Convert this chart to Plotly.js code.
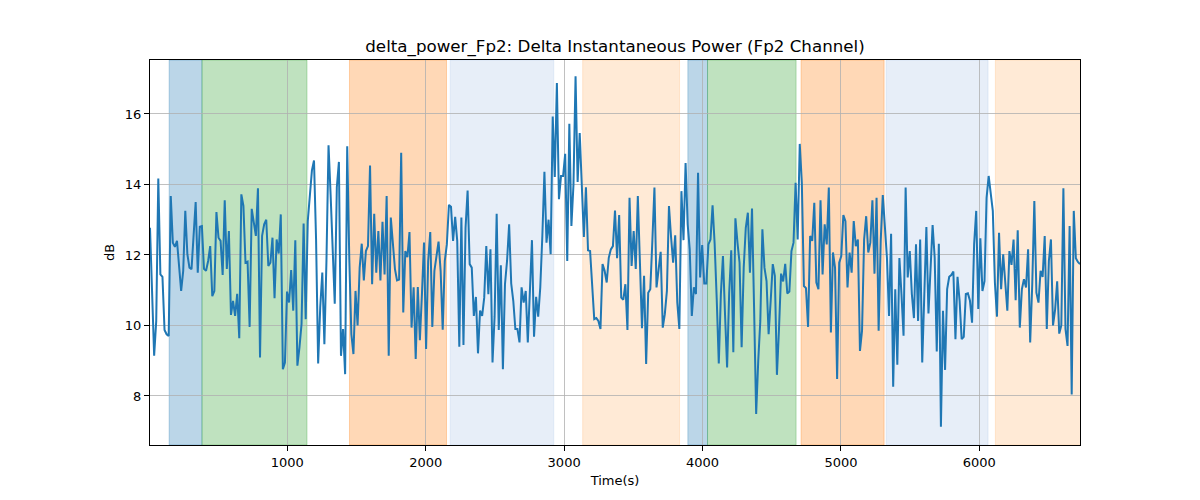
<!DOCTYPE html>
<html>
<head>
<meta charset="utf-8">
<script src="https://cdn.plot.ly/plotly-3.0.1.min.js"></script>
<style>html,body{margin:0;padding:0;background:#fff;}#chart{width:1200px;height:500px;}</style>
</head>
<body>
<div id="chart"></div>
<script>
// Sampling grid of the recording (seconds)
const T_START = 7.5;
const T_STEP = 15;

// Delta power (dB), left to right in eight pieces
const power1 = [12.77, 11.2, 9.14, 10.13, 14.17, 11.45, 11.38, 9.87, 9.75, 9.7,
  13.67, 12.35, 12.23, 12.4, 11.64, 10.98, 11.55, 13.25, 12.02, 11.64,
  11.6, 12.54, 13.5, 11.5, 12.8, 12.82, 11.61, 11.55, 11.83, 12.25,
  10.83, 10.98, 13.22, 12.49, 12.4, 11.43, 13.55, 11.6, 12.68, 10.3,
  10.7, 10.27, 10.9, 9.64, 13.72, 13.39, 11.78, 11.81, 9.96, 13.31,
  12.89, 12.54, 13.89, 9.09, 12.54, 12.87, 13.0, 11.69];
const power2 = [11.78, 12.49, 10.77, 12.44, 12.04, 13.15, 8.76, 8.95, 10.96, 10.65,
  11.57, 10.42, 12.42, 8.86, 9.38, 10.04, 12.89, 10.18, 12.96, 13.72,
  14.4, 14.68, 12.44, 8.92, 10.51, 11.5, 9.47, 11.83, 15.11, 13.72,
  12.4, 10.62, 13.92, 14.64, 9.14, 9.9, 8.62, 15.08, 11.88, 9.75,
  9.19, 10.98, 10.0, 11.64, 12.32, 11.28, 12.11, 12.25, 14.54, 11.17,
  13.17, 11.5, 12.68, 11.28, 12.94, 11.45, 13.67, 9.14];
const power3 = [13.06, 12.21, 11.6, 11.28, 11.3, 14.9, 10.37, 12.11, 11.94, 12.65,
  9.94, 11.08, 9.05, 11.09, 9.58, 10.89, 12.35, 9.33, 11.83, 12.65,
  9.96, 11.55, 12.04, 12.38, 11.55, 9.88, 11.83, 12.3, 13.42, 13.37,
  12.4, 13.08, 12.4, 9.4, 13.06, 9.45, 12.77, 13.83, 11.74, 11.64,
  10.27, 10.81, 9.21, 10.42, 10.27, 10.79, 12.25, 10.89, 12.16, 8.95,
  10.25, 13.17, 9.87, 11.71, 8.76, 11.17, 11.83, 12.87];
const power4 = [11.19, 10.7, 9.9, 9.9, 9.52, 11.08, 10.65, 10.98, 9.52, 11.08,
  12.42, 9.68, 10.81, 10.25, 11.08, 12.54, 14.36, 12.35, 13.0, 12.02,
  15.93, 14.21, 16.88, 13.58, 14.24, 14.24, 14.87, 11.83, 15.72, 12.82,
  14.0, 17.07, 14.07, 15.46, 14.09, 12.51, 13.92, 12.13, 12.11, 11.25,
  10.18, 10.21, 10.13, 9.9, 11.74, 11.55, 11.22, 11.92, 12.16, 12.25,
  13.26, 11.91, 13.13, 10.79, 10.73, 11.17, 9.87, 13.62];
const power5 = [11.69, 12.68, 11.6, 13.67, 11.92, 9.92, 11.41, 8.91, 10.93, 11.03,
  12.4, 13.91, 11.08, 11.55, 12.09, 9.94, 10.32, 10.98, 13.39, 12.51,
  11.78, 12.56, 10.65, 9.9, 13.81, 12.42, 14.61, 12.87, 12.16, 10.27,
  11.08, 10.89, 14.33, 11.36, 12.28, 11.19, 11.19, 12.3, 12.44, 13.41,
  12.32, 10.75, 8.92, 10.89, 11.97, 10.32, 8.81, 10.91, 12.13, 9.24,
  13.04, 12.35, 11.78, 9.38, 11.64, 12.77, 13.2];
const power6 = [11.5, 13.32, 10.51, 7.49, 9.0, 10.13, 12.73, 11.64, 11.26, 9.75,
  10.7, 11.74, 11.41, 8.6, 9.9, 11.47, 11.25, 11.75, 10.91, 10.96,
  12.11, 12.35, 14.05, 12.44, 15.15, 14.05, 11.12, 11.06, 9.96, 12.54,
  12.4, 13.48, 11.22, 11.03, 13.55, 11.45, 12.87, 12.3, 13.91, 9.8,
  12.07, 11.64, 8.48, 11.78, 11.97, 13.13, 12.96, 11.08, 12.07, 11.5,
  12.96, 12.25, 12.44, 9.28, 9.85, 12.44, 13.1, 12.07];
const power7 = [12.35, 13.55, 11.47, 13.62, 9.85, 12.4, 13.7, 12.77, 11.92, 10.27,
  12.6, 8.26, 11.03, 8.89, 11.91, 10.89, 9.71, 13.91, 11.36, 12.11,
  10.89, 10.21, 12.3, 10.13, 12.44, 8.95, 11.03, 12.79, 10.34, 11.78,
  12.85, 11.92, 9.26, 12.32, 7.13, 10.42, 8.74, 11.03, 11.38, 11.43,
  11.53, 9.61, 11.38, 10.7, 9.61, 9.68, 10.89, 10.91, 10.7, 10.08,
  12.3, 13.25, 10.47, 12.47, 10.98, 11.26, 13.62, 14.24];
const power8 = [13.74, 13.25, 11.22, 10.25, 12.63, 11.03, 12.02, 11.26, 10.42, 12.11,
  11.72, 12.44, 10.72, 12.7, 9.94, 11.03, 11.31, 11.08, 12.16, 9.52,
  11.17, 13.53, 10.93, 10.65, 11.55, 11.38, 12.54, 9.9, 11.83, 12.44,
  10.0, 10.44, 11.25, 9.77, 10.0, 13.89, 9.9, 9.42, 12.82, 8.04,
  13.25, 11.91, 11.8, 11.74];

// Shaded stage intervals (seconds) and their colours
const spanStart = [146, 383, 1449, 2177, 3134, 3894, 4036, 4712, 5327, 6116];
const spanEnd   = [383, 1142, 2150, 2925, 3834, 4036, 4676, 5312, 6063, 6740];
const spanColor = ['#1f77b4', '#2ca02c', '#ff7f0e', '#aec7e8', '#ffbb78',
                   '#1f77b4', '#2ca02c', '#ff7f0e', '#aec7e8', '#ffbb78'];

const xTicks = [1000, 2000, 3000, 4000, 5000, 6000];
const yTicks = [8, 10, 12, 14, 16];

const power = [].concat(power1, power2, power3, power4, power5, power6, power7, power8);
const times = power.map((_, i) => T_START + i * T_STEP);

function rgba(hex, a) {
  const r = parseInt(hex.slice(1, 3), 16), g = parseInt(hex.slice(3, 5), 16), b = parseInt(hex.slice(5, 7), 16);
  return 'rgba(' + r + ',' + g + ',' + b + ',' + a + ')';
}

const shapes = spanStart.map((s, i) => ({
  type: 'rect', xref: 'x', yref: 'paper', x0: s, x1: spanEnd[i], y0: 0, y1: 1,
  fillcolor: rgba(spanColor[i], 0.3), line: {color: rgba(spanColor[i], 0.3), width: 1},
  layer: 'below'
}));

const font = 'DejaVu Sans, sans-serif';

const trace = {
  x: times, y: power, type: 'scatter', mode: 'lines',
  line: {color: '#1f77b4', width: 2}, hoverinfo: 'x+y', showlegend: false
};

const layout = {
  width: 1200, height: 500,
  margin: {l: 150, r: 120, t: 60, b: 55},
  paper_bgcolor: '#ffffff', plot_bgcolor: '#ffffff',
  font: {family: font, size: 13, color: '#000000'},
  title: {text: 'delta_power_Fp2: Delta Instantaneous Power (Fp2 Channel)',
          font: {family: font, size: 16.7, color: '#000000'},
          x: 0.5125, xanchor: 'center', xref: 'container', y: 1 - 46 / 500, yref: 'container', yanchor: 'middle'},
  xaxis: {
    range: [T_START, times[times.length - 1]],
    tickmode: 'array', tickvals: xTicks, ticktext: xTicks.map(String),
    showgrid: true, gridcolor: '#b0b0b0', gridwidth: 0.8,
    zeroline: false, showline: true, mirror: true, linecolor: '#000000', linewidth: 1,
    ticks: 'outside', ticklen: 5, tickwidth: 1, tickcolor: '#000000',
    tickfont: {family: font, size: 13, color: '#000000'},
    title: {text: 'Time(s)', font: {family: font, size: 13, color: '#000000'}, standoff: 7}
  },
  yaxis: {
    range: [6.61, 17.53],
    tickmode: 'array', tickvals: yTicks, ticktext: yTicks.map(String),
    showgrid: true, gridcolor: '#b0b0b0', gridwidth: 0.8,
    zeroline: false, showline: true, mirror: true, linecolor: '#000000', linewidth: 1,
    ticks: 'outside', ticklen: 5, tickwidth: 1, tickcolor: '#000000',
    tickfont: {family: font, size: 13, color: '#000000'},
    title: {text: 'dB', font: {family: font, size: 13, color: '#000000'}, standoff: 7}
  },
  shapes: shapes
};

Plotly.newPlot('chart', [trace], layout, {displayModeBar: false, staticPlot: true});
</script>
</body>
</html>
